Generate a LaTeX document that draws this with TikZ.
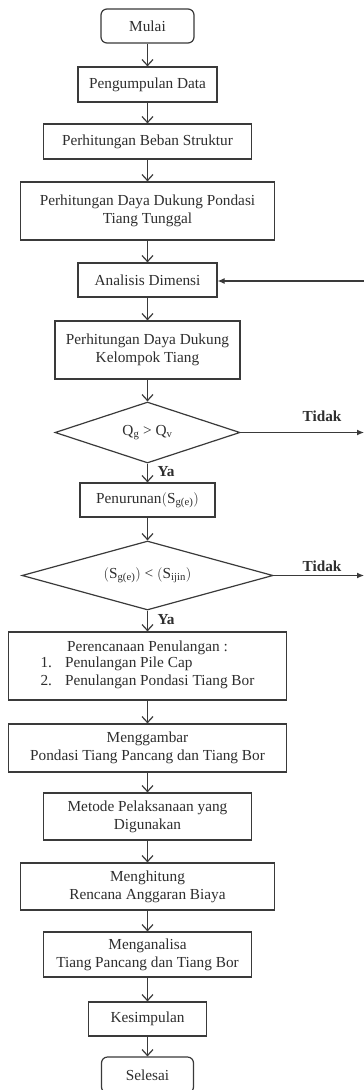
\documentclass[tikz,border=0pt]{standalone}
\usepackage{fontspec}
\setmainfont{Liberation Serif}
\usetikzlibrary{shapes.geometric,arrows.meta}
\definecolor{ln}{HTML}{3A3A3A}
\definecolor{tx}{HTML}{2E2E2E}
\begin{document}
\begin{tikzpicture}[x=1pt,y=-1pt,
  box/.style={draw=ln, line width=1.2pt, rectangle, inner sep=0pt, text=tx,
    align=center, font=\fontsize{15.3}{17.8}\selectfont},
  term/.style={box, rounded corners=6pt},
  dec/.style={box, diamond},
  lbl/.style={text=tx, inner sep=0pt, font=\fontsize{15.3}{17.8}\selectfont\bfseries},
  arr/.style={draw=ln, line width=1.2pt, -{Straight Barb[length=6pt,width=11pt,line width=1.2pt]}},
  farr/.style={draw=ln, line width=1.2pt, -{Latex[length=7pt,width=6pt]}}]
\useasboundingbox (0,0) rectangle (364,1090);
\fill[white] (0,0) rectangle (364,1090);

\node[term, minimum width=93pt, minimum height=34pt] (mulai) at (147.5,26) {Mulai};
\node[box, minimum width=139pt, minimum height=35pt] (data) at (147.5,84.5) {Pengumpulan Data};
\node[box, minimum width=208pt, minimum height=35pt] (beban) at (147.5,141.5) {Perhitungan Beban Struktur};
\node[box, minimum width=254pt, minimum height=58pt] (tunggal) at (147.5,211) {Perhitungan Daya Dukung Pondasi\\Tiang Tunggal};
\node[box, minimum width=139pt, minimum height=34pt] (dimensi) at (147.5,280) {Analisis Dimensi};
\node[box, minimum width=185pt, minimum height=58pt] (kelompok) at (147.5,350) {Perhitungan Daya Dukung\\Kelompok Tiang};
\node[dec, minimum width=185pt, minimum height=61pt, shape aspect=3] (d1) at (147.5,432.5) {Q\textsubscript{g} > Q\textsubscript{v}};
\node[box, minimum width=135pt, minimum height=34pt] (turun) at (147.5,500) {Penurunan$\bigl($S\textsubscript{g(e)}$\bigr)$};
\node[dec, minimum width=251pt, minimum height=69pt, shape aspect=3.6] (d2) at (147.5,575.5) {$\bigl($S\textsubscript{g(e)}$\bigr)$ < $\bigl($S\textsubscript{ijin}$\bigr)$};
\node[box, minimum width=278pt, minimum height=68pt] (rencana) at (147.5,666) {Perencanaan Penulangan :\\[-1pt]
  \begin{tabular}{@{}l@{\hspace{13pt}}l@{}}1. & Penulangan Pile Cap\\ 2. & Penulangan Pondasi Tiang Bor\end{tabular}};
\node[box, minimum width=278pt, minimum height=48pt] (gambar) at (147.5,748) {Menggambar\\Pondasi Tiang Pancang dan Tiang Bor};
\node[box, minimum width=208pt, minimum height=47pt] (metode) at (147.5,816.5) {Metode Pelaksanaan yang\\Digunakan};
\node[box, minimum width=254pt, minimum height=47pt] (biaya) at (147.5,886.5) {Menghitung\\Rencana Anggaran Biaya};
\node[box, minimum width=208pt, minimum height=45pt] (analisa) at (147.5,954.5) {Menganalisa\\Tiang Pancang dan Tiang Bor};
\node[box, minimum width=118pt, minimum height=34pt] (simpul) at (147.5,1019) {Kesimpulan};
\node[term, minimum width=92pt, minimum height=36pt] (selesai) at (147.5,1075) {Selesai};

\draw[arr] (mulai) -- (data);
\draw[arr] (data) -- (beban);
\draw[arr] (beban) -- (tunggal);
\draw[arr] (tunggal) -- (dimensi);
\draw[arr] (dimensi) -- (kelompok);
\draw[arr] (kelompok) -- (d1);
\draw[arr] (d1) -- (turun);
\draw[arr] (turun) -- (d2);
\draw[arr] (d2) -- (rencana);
\draw[arr] (rencana) -- (gambar);
\draw[arr] (gambar) -- (metode);
\draw[arr] (metode) -- (biaya);
\draw[arr] (biaya) -- (analisa);
\draw[arr] (analisa) -- (simpul);
\draw[arr] (simpul) -- (selesai);

\coordinate (e1) at (364,432.5);
\coordinate (e2) at (364,575.5);
\coordinate (e0) at (364,281);
\draw[farr] (d1.east) -- (e1);
\draw[farr] (d2.east) -- (e2);
\draw[farr] (e0) -- (dimensi.east |- e0);

\node[lbl] (t1) at (322,416) {Tidak};
\node[lbl] (t2) at (322,566) {Tidak};
\node[lbl] (y1) at (166,472) {Ya};
\node[lbl] (y2) at (166,620) {Ya};
\end{tikzpicture}
\end{document}
